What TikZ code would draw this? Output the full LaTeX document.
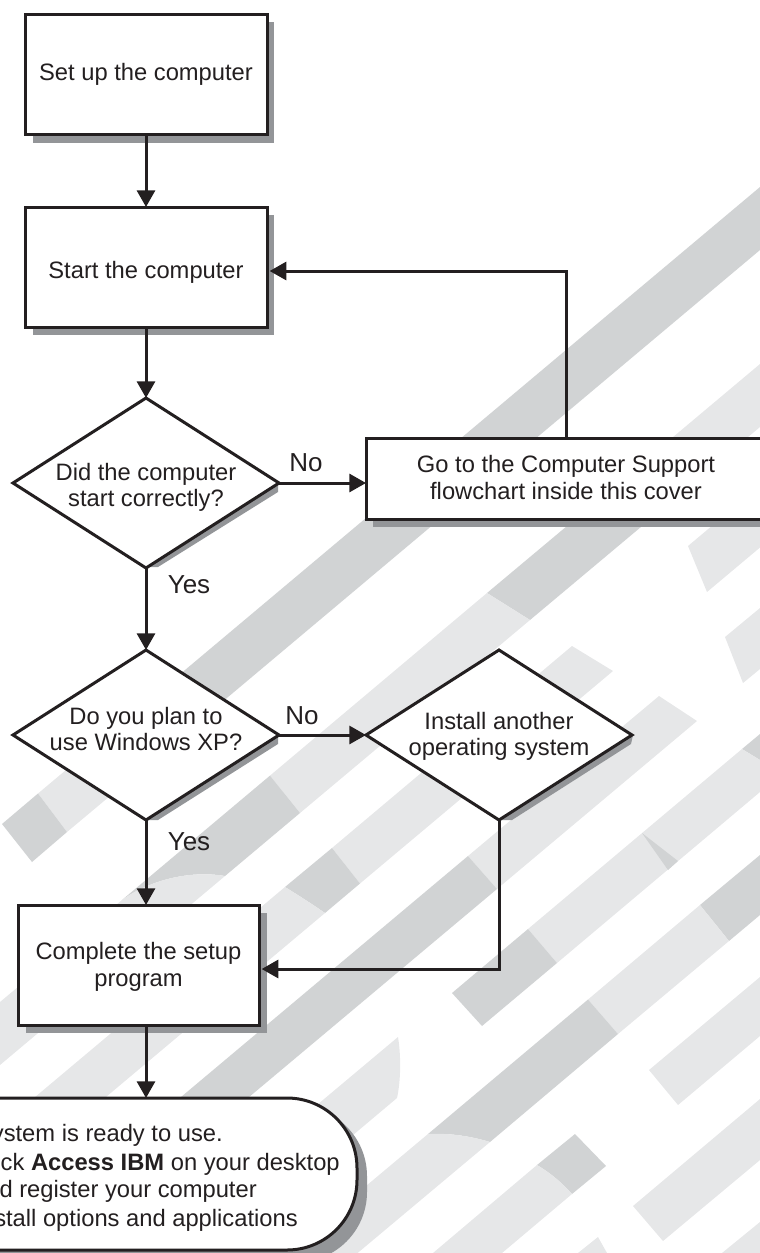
\documentclass[tikz,border=0pt]{standalone}
\usepackage{fontspec}
\setmainfont{Liberation Sans}
\usetikzlibrary{arrows.meta,shapes.geometric}
\definecolor{ink}{HTML}{231F20}
\definecolor{shade}{HTML}{939598}
\definecolor{bandd}{HTML}{D1D3D4}
\definecolor{bandl}{HTML}{E6E7E8}
\newcommand\boxlines[2]{\smash{\raisebox{\dimexpr-4.45pt-#1pt*3/4\relax}{\begin{tabular}{@{}c@{}}#2\end{tabular}}}}
\tikzset{
  flowbox/.style={draw=ink,line width=2.25pt,fill=white,rectangle,inner sep=0pt,outer sep=0pt,text=ink,align=center,font=\fontsize{17.8}{20}\selectfont},
  decision/.style={draw=ink,line width=2.25pt,fill=white,diamond,aspect=1.58,inner sep=0pt,outer sep=0pt,text=ink,align=center,font=\fontsize{17.8}{20}\selectfont,minimum width=199.5pt,minimum height=127.5pt},
  flow/.style={draw=ink,line width=2.25pt,-{Triangle[length=12.5pt,width=13.5pt]}},
  plainlabel/.style={text=ink,inner sep=0pt,font=\fontsize{19.5}{23}\selectfont},
  bodytext/.style={text=ink,inner sep=0pt,anchor=base east,font=\fontsize{17.8}{20}\selectfont},
  dk/.style={fill=bandd,draw=none},
  lt/.style={fill=bandl,draw=none},
  shadow/.style={fill=shade,draw=none}
}
\begin{document}
\begin{tikzpicture}[x=0.75pt,y=-0.75pt]
\useasboundingbox (0,0) rectangle (760,1253);
\clip (0,0) rectangle (760,1253);
% background bands
\fill[dk] (760,187) -- (760,250) -- (190,729) -- (160,691) -- cycle;
\fill[lt] (160,691) -- (190,729) -- (67,832) -- (38,793.5) -- cycle;
\fill[dk] (38,793.5) -- (67,832) -- (32,862) -- (2,824) -- cycle;
\fill[lt] (760,364) -- (760,427) -- (660,511) -- (620,481.6) -- cycle;
\fill[dk] (620,481.6) -- (660,511) -- (530,620) -- (487,593) -- cycle;
\fill[lt] (487,593) -- (530,620) -- (300,813) -- (270,775.6) -- cycle;
\fill[dk] (270,775.6) -- (300,813) -- (225,876) .. controls (190,870) and (150,880) .. (122,900) -- cycle;
\fill[lt] (122,900) .. controls (150,880) and (190,870) .. (225,876) -- (0,1065) -- (0,1002) -- cycle;
\fill[lt] (572,646) -- (613,671) -- (360,883.5) -- (332,848) -- cycle;
\fill[dk] (332,848) -- (360,883.5) -- (325,913) .. controls (312,904) and (298,895) .. (285,887) -- cycle;
\fill[lt] (285,887) .. controls (298,895) and (312,904) .. (325,913) -- (0,1186) -- (0,1126.5) -- cycle;
\fill[lt] (659,696) -- (697,721) -- (497,889) -- (468,856) -- cycle;
\fill[dk] (468,856) -- (497,889) -- (0,1306) -- (0,1249) -- cycle;
\fill[dk] (742,749) -- (760,734) -- (760,760) -- cycle;
\fill[lt] (742,749) -- (760,760) -- (760,792) -- (557,963) -- (528,929) -- cycle;
\fill[dk] (528,929) -- (557,963) -- (482,1026) -- (452,993) -- cycle;
\fill[dk] (642,833) -- (678,861) -- (668,870) -- cycle;
\fill[dk] (760,855) -- (760,915) -- (729,941) -- (700,905) -- cycle;
\fill[lt] (700,905) -- (729,941) -- (618,1034) -- (588,999.5) -- cycle;
\fill[dk] (588,999.5) -- (618,1034) -- (490,1142) .. controls (470,1136) and (450,1133) .. (428,1134) -- cycle;
\fill[lt] (428,1134) .. controls (450,1133) and (470,1136) .. (490,1142) -- (100,1469) -- (100,1409) -- cycle;
\fill[lt] (398,1037) .. controls (401,1055) and (401,1080) .. (397,1098) -- (100,1348) -- (100,1287) -- cycle;
\fill[dk] (575,1134) -- (606,1166) -- (572,1194) .. controls (562,1183) and (552,1174) .. (537,1165) -- cycle;
\fill[lt] (537,1165) .. controls (552,1174) and (562,1183) .. (572,1194) -- (470,1280) -- (420,1264) -- cycle;
\fill[lt] (649,1070) -- (678,1105) -- (760,1036) -- (760,977) -- cycle;
\fill[lt] (633,1206) -- (663,1241) -- (760,1160) -- (760,1099) -- cycle;
\fill[lt] (688,546) -- (707,592) -- (760,547.5) -- (760,485.5) -- cycle;
\fill[lt] (725,637) -- (743,683) -- (760,669) -- (760,608) -- cycle;
\fill[lt] (760,1222) -- (722,1253) -- (760,1253) -- cycle;
\fill[lt] (598,1237) -- (607,1253) -- (578,1253) -- cycle;
% shadows
\fill[shadow] (33,22) rectangle (274,143);
\fill[shadow] (33,215) rectangle (274,335);
\fill[shadow] (373,446) rectangle (770,527);
\fill[shadow] (26,913) rectangle (267,1033);
\fill[shadow] (146,567) -- (158,567) -- (278,492) -- (278,483) -- cycle;
\fill[shadow] (146,820) -- (158,820) -- (278,744) -- (278,735) -- cycle;
\fill[shadow] (498,820) -- (512,820) -- (631,744) -- (633,735) -- cycle;
\fill[shadow,rounded corners=52.5pt] (-190,1106) rectangle (367,1262);
% boxes
\node[flowbox,minimum width=181.5pt,minimum height=90pt] (setup) at (146,74) {\boxlines{1}{Set up the computer}};
\node[flowbox,minimum width=181.5pt,minimum height=90pt] (start) at (146,267) {\boxlines{6}{Start the computer}};
\node[decision] (ok) at (146,483) {\boxlines{5}{Did the computer\\start correctly?}};
\node[flowbox,minimum width=300pt,minimum height=60.75pt] (support) at (566,478.5) {\boxlines{2}{Go to the Computer Support\\flowchart inside this cover}};
\node[decision] (xp) at (146,735) {\boxlines{-3}{Do you plan to\\use Windows XP?}};
\node[decision] (other) at (499,735) {\boxlines{2}{Install another\\operating system}};
\node[flowbox,minimum width=180.75pt,minimum height=90pt] (finish) at (138.5,965) {\boxlines{2.5}{Complete the setup\\program}};
\node[flowbox,minimum width=412.5pt,minimum height=114pt,rounded corners=52.5pt] (ready) at (82,1174) {};
% box texts (as cut by the page edge)
\node[bodytext] (t1) at (223,1141) {ystem is ready to use.};
\node[bodytext] (t2) at (340,1170) {ck \textbf{Access IBM} on your desktop};
\node[bodytext] (t3) at (257,1197) {d register your computer};
\node[bodytext] (t4) at (298,1226) {stall options and applications};
% connectors
\coordinate (startin) at (267,271);
\coordinate (finishin) at (259,969);
\draw[flow] (setup.south) -- (start.north);
\draw[flow] (start.south) -- (ok.north);
\draw[flow] (ok.south) -- (xp.north);
\draw[flow] (ok.east) -- (ok.east -| support.west);
\draw[flow] (xp.east) -- (other.west);
\draw[flow,shorten >=2pt] (support.north) |- (startin);
\draw[flow] (xp.south) -- (xp.south |- finish.north);
\draw[flow,shorten >=2pt] (other.south) |- (finishin);
\draw[flow] (xp.south |- finish.south) -- (xp.south |- ready.north);
% labels
\node[plainlabel] (no1) at (306,463) {No};
\node[plainlabel] (yes1) at (189,585) {Yes};
\node[plainlabel] (no2) at (302,716) {No};
\node[plainlabel] (yes2) at (189,842) {Yes};
\end{tikzpicture}
\end{document}
